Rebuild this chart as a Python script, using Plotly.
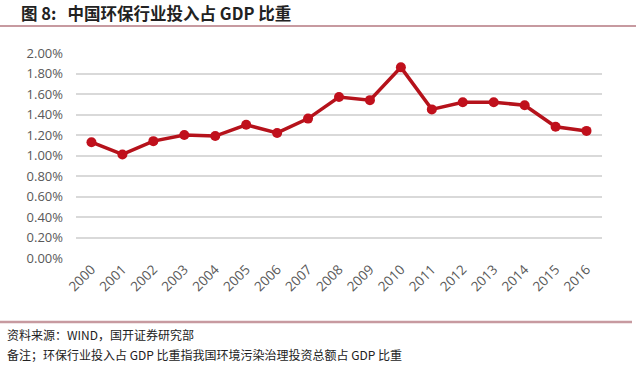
import plotly.graph_objects as go

years = [str(y) for y in range(2000, 2017)]
share = [1.13, 1.01, 1.14, 1.20, 1.19, 1.30, 1.22, 1.36, 1.57, 1.54, 1.86,
         1.45, 1.52, 1.52, 1.49, 1.28, 1.24]
y_ticks = [0, 0.2, 0.4, 0.6, 0.8, 1.0, 1.2, 1.4, 1.6, 1.8, 2.0]
y_tick_labels = [f"{v:.2f}%" for v in y_ticks]

title = "图 8:\u00a0\u00a0\u00a0中国环保行业投入占 GDP 比重"
source = "资料来源：WIND，国开证券研究部"
note = "备注；环保行业投入占 GDP 比重指我国环境污染治理投资总额占 GDP 比重"

W_PLOT = 637 - 76 - 35
H_PLOT = 368 - 53 - 110

fig = go.Figure(go.Scatter(
    x=years, y=share, mode="lines+markers",
    line=dict(color="#b5121b", width=3.5),
    marker=dict(color="#c0101c", size=10),
    hoverinfo="skip",
))

def px_x(x):
    return (x - 76) / W_PLOT

def px_y(y):
    return (258 - y) / H_PLOT

fig.update_layout(
    width=637, height=368,
    margin=dict(l=76, r=35, t=53, b=110),
    paper_bgcolor="white", plot_bgcolor="white",
    showlegend=False,
    font=dict(family="Noto Sans CJK SC, Noto Sans, sans-serif", color="#595959"),
    xaxis=dict(type="category", showgrid=False, showline=False, ticks="",
               tickangle=-45, tickfont=dict(size=13.5, color="#595959",
                                            family="Open Sans, Noto Sans, sans-serif"),
               range=[-0.5, 16.5]),
    yaxis=dict(range=[0, 2.0], tickvals=y_ticks, ticktext=y_tick_labels,
               showgrid=True, gridcolor="#d9d9d9", gridwidth=1.5,
               zeroline=False, showline=False, ticks="", ticklabelstandoff=12,
               tickfont=dict(size=13, color="#595959",
                             family="Open Sans, Noto Sans, sans-serif")),
    shapes=[
        dict(type="line", xref="paper", yref="paper", x0=px_x(0), x1=px_x(636),
             y0=px_y(26), y1=px_y(26), line=dict(color="#c79aa0", width=2)),
        dict(type="line", xref="paper", yref="paper", x0=px_x(0), x1=px_x(632),
             y0=px_y(322), y1=px_y(322), line=dict(color="#c79aa0", width=2.5)),
    ],
    annotations=[
        dict(text="<b>" + title + "</b>", xref="paper", yref="paper",
             x=px_x(19), y=px_y(13), xanchor="left", yanchor="middle",
             showarrow=False, font=dict(size=16.5, color="#222222",
                                        family="Noto Sans CJK SC, sans-serif")),
        dict(text=source, xref="paper", yref="paper",
             x=px_x(5), y=px_y(334), xanchor="left", yanchor="middle",
             showarrow=False, font=dict(size=12, color="#222222",
                                        family="Noto Sans CJK SC, sans-serif")),
        dict(text=note, xref="paper", yref="paper",
             x=px_x(5), y=px_y(354), xanchor="left", yanchor="middle",
             showarrow=False, font=dict(size=12, color="#222222",
                                        family="Noto Sans CJK SC, sans-serif")),
    ],
)

fig.write_html("out.html", config={"displayModeBar": False},
               post_script="document.body.style.margin='0px';document.body.style.overflow='hidden';")
